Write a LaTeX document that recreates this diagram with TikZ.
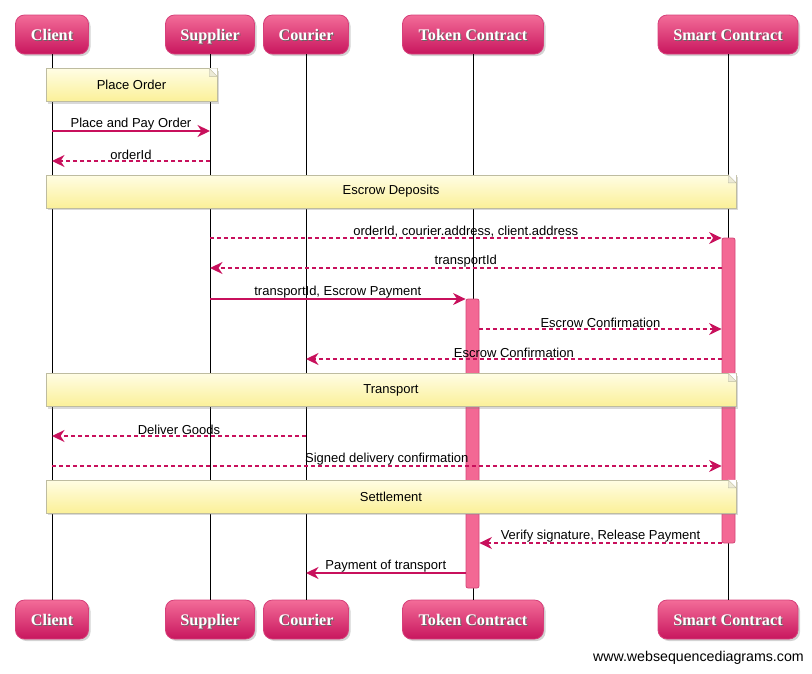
\documentclass[tikz,border=0pt]{standalone}
\usepackage{fontspec}
\setmainfont{Liberation Serif}
\setsansfont{Liberation Sans}
\usetikzlibrary{arrows.meta,shadows}
\definecolor{actortop}{RGB}{243,108,152}
\definecolor{actorbot}{RGB}{200,22,94}
\definecolor{actorline}{RGB}{214,64,122}
\definecolor{msgcol}{RGB}{200,16,92}
\definecolor{actfill}{RGB}{243,104,148}
\definecolor{actline}{RGB}{212,70,120}
\definecolor{notetop}{RGB}{255,253,228}
\definecolor{notebot}{RGB}{251,240,152}
\definecolor{noteline}{RGB}{190,188,160}
\definecolor{notefold}{RGB}{236,234,214}
% white header text with a dark shadow behind it
\newcommand\shadowed[1]{\makebox[0pt][l]{\hspace{1pt}\raisebox{-1pt}{\color{black!60}#1}}#1}

\begin{document}
\begin{tikzpicture}[x=1pt,y=-1pt,
    actor/.style={rounded corners=9pt, draw=actorline, line width=0.8pt,
      top color=actortop, bottom color=actorbot, text=white,
      font=\fontsize{16.2}{18}\selectfont\bfseries, minimum height=39pt,
      text height=13pt, text depth=2pt,
      inner sep=0pt, drop shadow={shadow xshift=2pt, shadow yshift=-2pt, opacity=0.35}},
    note/.style={draw=noteline, top color=notetop, bottom color=notebot,
      font=\sffamily\fontsize{13}{15}\selectfont, minimum height=33pt,
      inner sep=0pt, drop shadow={shadow xshift=2pt, shadow yshift=-2pt, opacity=0.3}},
    activation/.style={draw=actline, fill=actfill, rounded corners=2pt,
      minimum width=13pt, inner sep=0pt, line width=0.8pt},
    msg/.style={msgcol, line width=1.4pt, -{Stealth[length=12.5pt,width=12pt,inset=4pt]}},
    reply/.style={msg, dash pattern=on 4pt off 3pt},
    lbl/.style={text=black, font=\sffamily\fontsize{13}{15}\selectfont,
      midway, above, inner sep=0.6pt}]
  \useasboundingbox (0,0) rectangle (812,673);

  % Participants and lifelines
  \foreach \n/\x/\w/\t in {client/52/73/Client, supplier/210/89/Supplier,
      courier/306/85/Courier, token/473/141/Token Contract,
      smart/728/140/Smart Contract}{
    \node[actor, minimum width=\w pt] (\n-top) at (\x,34.5) {\shadowed{\t}};
    \node[actor, minimum width=\w pt] (\n-bot) at (\x,619.5) {\shadowed{\t}};
    \draw[line width=0.8pt] (\n-top) -- (\n-bot);
  }

  % Activation bars
  \node[activation, minimum height=305pt] (smartAct) at (728.5,390.5) {};
  \node[activation, minimum height=289pt] (tokenAct) at (472.5,443.5) {};

  % Notes
  \foreach \n/\cx/\cy/\w/\t in {placeNote/131.5/85/171/Place Order,
      escrowNote/391/191.5/690/Escrow Deposits,
      transNote/391/390/690/Transport,
      settleNote/391/496.5/690/Settlement}{
    \node[note, minimum width=\w pt] (\n) at (\cx,\cy) {\t};
    \fill[white] ([xshift=-8pt]\n.north east) -- (\n.north east)
      -- ([yshift=-8pt]\n.north east) -- cycle;
    \draw[noteline, fill=notefold] ([xshift=-8pt]\n.north east)
      -- ([xshift=-8pt,yshift=-8pt]\n.north east)
      -- ([yshift=-8pt]\n.north east) -- cycle;
  }

  % Messages
  \draw[msg] (client-top |- 0,131) -- (supplier-top |- 0,131)
    node[lbl] (m1) {Place and Pay Order};
  \draw[reply] (supplier-top |- 0,161) -- (client-top |- 0,161)
    node[lbl] (m2) {orderId};
  \draw[reply] (supplier-top |- 0,238) -- (smartAct.west |- 0,238)
    node[lbl] (m3) {orderId, courier.address, client.address};
  \draw[reply] (smartAct.west |- 0,268) -- (supplier-top |- 0,268)
    node[lbl] (m4) {transportId};
  \draw[msg] (supplier-top |- 0,299) -- (tokenAct.west |- 0,299)
    node[lbl] (m5) {transportId, Escrow Payment};
  \draw[reply] (tokenAct.east |- 0,329) -- (smartAct.west |- 0,329)
    node[lbl] (m6) {Escrow Confirmation};
  \draw[reply] (smartAct.west |- 0,359) -- (courier-top |- 0,359)
    node[lbl] (m7) {Escrow Confirmation};
  \draw[reply] (courier-top |- 0,436) -- (client-top |- 0,436)
    node[lbl] (m8) {Deliver Goods};
  \draw[reply] (client-top |- 0,466) -- (smartAct.west |- 0,466)
    node[lbl] (m9) {Signed delivery confirmation};
  \draw[reply] (smartAct.west |- 0,543) -- (tokenAct.east |- 0,543)
    node[lbl] (m10) {Verify signature, Release Payment};
  \draw[msg] (tokenAct.west |- 0,573) -- (courier-top |- 0,573)
    node[lbl] (m11) {Payment of transport};

  \node[font=\sffamily\fontsize{14.2}{16}\selectfont, anchor=east, inner sep=0pt]
    (footer) at (804,658) {www.websequencediagrams.com};
\end{tikzpicture}
\end{document}
